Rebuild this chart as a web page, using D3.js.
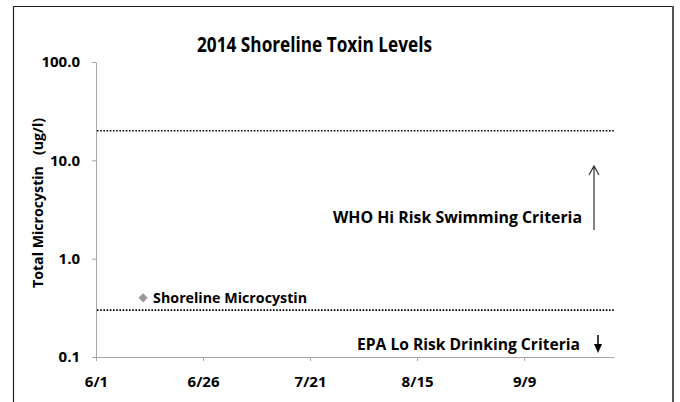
<!DOCTYPE html>
<html>
<head>
<meta charset="utf-8">
<script src="https://cdn.jsdelivr.net/npm/d3@7"></script>
<style>
  body { margin: 0; background: #fff; }
  text { font-family: "Open Sans", Lato, sans-serif; font-weight: bold; fill: #000; }
</style>
</head>
<body>
<svg id="chart"></svg>
<script>
// Data
const sampleDates = ['2014-06-12'];
const sampleValues = [0.4];
const seriesName = 'Shoreline Microcystin';
const criteriaNames = ['WHO Hi Risk Swimming Criteria', 'EPA Lo Risk Drinking Criteria'];
const criteriaValues = [20, 0.3];
const xTickLabels = ['6/1', '6/26', '7/21', '8/15', '9/9'];
const yTickValues = [0.1, 1, 10, 100];
const xDomain = ['2014-06-01', '2014-09-30'];

const width = 680, height = 402;
const margin = { top: 62, right: 66, bottom: 45, left: 96 };
const parse = d3.timeParse('%Y-%m-%d');

const svg = d3.select('#chart')
  .attr('width', width)
  .attr('height', height);

// Outer frame
svg.append('path')
  .attr('d', `M13.5,${height} V6.5 H672`)
  .attr('fill', 'none')
  .attr('stroke', '#222')
  .attr('stroke-width', 1.2);
svg.append('line')
  .attr('x1', 673).attr('x2', 673)
  .attr('y1', 6).attr('y2', height)
  .attr('stroke', '#555')
  .attr('stroke-width', 2);

// Scales
const x = d3.scaleTime()
  .domain(xDomain.map(parse))
  .range([margin.left, width - margin.right]);
const y = d3.scaleLog()
  .domain([0.1, 100])
  .range([height - margin.bottom, margin.top]);

// Axes
const xTickDates = xTickLabels.map(s => {
  const [m, d] = s.split('/').map(Number);
  return new Date(2014, m - 1, d);
});
const xAxis = d3.axisBottom(x)
  .tickValues(xTickDates)
  .tickFormat(d3.timeFormat('%-m/%-d'))
  .tickSize(4)
  .tickSizeOuter(0);
const xAxisG = svg.append('g')
  .attr('transform', `translate(0,${height - margin.bottom})`)
  .call(xAxis);
xAxisG.select('.domain').attr('stroke', '#a6a6a6');
xAxisG.selectAll('.tick line').attr('stroke', '#a6a6a6');
xAxisG.selectAll('.tick text')
  .attr('dy', null)
  .attr('y', 30)
  .style('font-size', '15px')
  .style('font-family', '"Open Sans", sans-serif');

const yAxis = d3.axisLeft(y)
  .tickValues(yTickValues)
  .tickFormat(d3.format('.1f'))
  .tickSize(4)
  .tickSizeOuter(0);
const yAxisG = svg.append('g')
  .attr('transform', `translate(${margin.left},0)`)
  .call(yAxis);
yAxisG.select('.domain').attr('stroke', '#a6a6a6');
yAxisG.selectAll('.tick line').attr('stroke', '#a6a6a6');
yAxisG.selectAll('.tick text')
  .attr('x', -16)
  .style('font-size', '15px')
  .style('font-family', '"Open Sans", sans-serif');

// Criteria lines (dotted)
svg.selectAll('.criteria')
  .data(criteriaValues)
  .join('line')
  .attr('class', 'criteria')
  .attr('x1', margin.left + 1)
  .attr('x2', width - margin.right)
  .attr('y1', d => y(d))
  .attr('y2', d => y(d))
  .attr('stroke', '#000')
  .attr('stroke-width', 1.7)
  .attr('stroke-dasharray', '1.6 1.6');

// Data points
const points = sampleDates.map((d, i) => ({ date: parse(d), value: sampleValues[i] }));
svg.selectAll('.pt')
  .data(points)
  .join('path')
  .attr('class', 'pt')
  .attr('transform', d => `translate(${x(d.date)},${y(d.value)})`)
  .attr('d', d3.symbol(d3.symbolDiamond2, 55))
  .attr('fill', '#999');

svg.append('text')
  .attr('x', x(points[0].date) + 10)
  .attr('y', y(points[0].value) + 5)
  .attr('textLength', 154)
  .attr('lengthAdjust', 'spacingAndGlyphs')
  .style('font-size', '14.5px')
  .text(seriesName);

// Criteria annotations
svg.append('text')
  .attr('x', 333)
  .attr('y', 223)
  .attr('textLength', 249)
  .attr('lengthAdjust', 'spacingAndGlyphs')
  .style('font-size', '15.5px')
  .text(criteriaNames[0]);
svg.append('text')
  .attr('x', 357)
  .attr('y', 350)
  .attr('textLength', 223)
  .attr('lengthAdjust', 'spacingAndGlyphs')
  .style('font-size', '15.5px')
  .text(criteriaNames[1]);

// Up arrow (open head)
svg.append('path')
  .attr('d', 'M594,230 V166 M589,175 L594,166 L599,175')
  .attr('fill', 'none')
  .attr('stroke', '#333')
  .attr('stroke-width', 1.2);

// Down arrow (filled head)
svg.append('line')
  .attr('x1', 598).attr('x2', 598)
  .attr('y1', 335).attr('y2', 346)
  .attr('stroke', '#000')
  .attr('stroke-width', 1.5);
svg.append('path')
  .attr('d', 'M594,344 L602,344 L598,353 Z')
  .attr('fill', '#000');

// Title
svg.append('text')
  .attr('x', 197)
  .attr('y', 52)
  .attr('textLength', 235)
  .attr('lengthAdjust', 'spacingAndGlyphs')
  .style('font-size', '21px')
  .text('2014 Shoreline Toxin Levels');

// Y-axis title
svg.append('text')
  .attr('transform', 'translate(43,288) rotate(-90)')
  .attr('textLength', 170)
  .attr('lengthAdjust', 'spacingAndGlyphs')
  .attr('xml:space', 'preserve')
  .style('font-size', '14.5px')
  .text('Total Microcystin   (ug/l)');
</script>
</body>
</html>
